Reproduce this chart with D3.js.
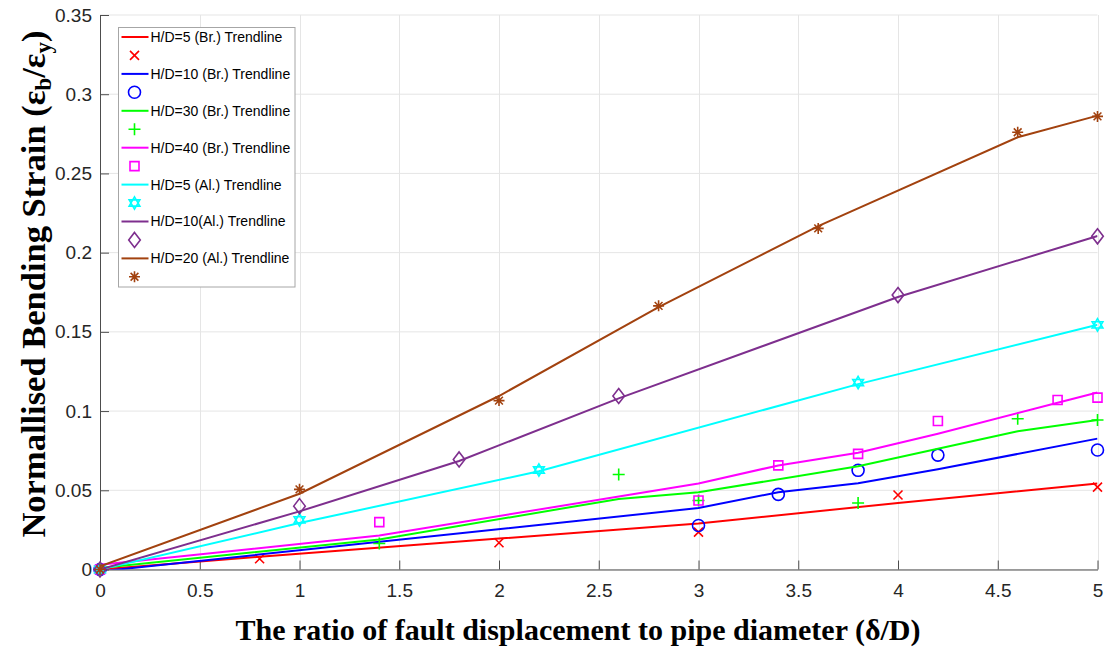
<!DOCTYPE html>
<html>
<head>
<meta charset="utf-8">
<script src="https://cdnjs.cloudflare.com/ajax/libs/d3/7.8.5/d3.min.js"></script>
<style>
  body { margin: 0; background: #fff; }
  svg { display: block; font-family: Arial, 'Liberation Sans', sans-serif; }
  .grid line { stroke: #e5e5e5; stroke-width: 1; }
  .axis path, .axis line { stroke: #4d4d4d; stroke-width: 1; }
  .axis text { fill: #262626; font-size: 19px; }
  .axis-title { font-family: 'Liberation Serif', 'Times New Roman', serif; font-weight: bold; fill: #000; }
  .x-title { font-size: 30px; }
  .y-title { font-size: 34.5px; }
  .trend { fill: none; stroke-width: 2; }
  .marker { fill: none; stroke-width: 1.6; }
  .legend-frame { fill: #fff; stroke: #a6a6a6; stroke-width: 1; }
  .legend text { font-size: 14px; fill: #000; }
</style>
</head>
<body>
<div id="chart"></div>
<script>
'use strict';

var X_TICKS = [0, 0.5, 1, 1.5, 2, 2.5, 3, 3.5, 4, 4.5, 5],
    X_TICK_LABELS = ['0', '0.5', '1', '1.5', '2', '2.5', '3', '3.5', '4', '4.5', '5'],
    Y_TICKS = [0, 0.05, 0.1, 0.15, 0.2, 0.25, 0.3, 0.35],
    Y_TICK_LABELS = ['0', '0.05', '0.1', '0.15', '0.2', '0.25', '0.3', '0.35'];

var SERIES_NAMES = [
  'H/D=5 (Br.) Trendline',
  'H/D=10 (Br.) Trendline',
  'H/D=30 (Br.) Trendline',
  'H/D=40 (Br.) Trendline',
  'H/D=5 (Al.) Trendline',
  'H/D=10(Al.) Trendline',
  'H/D=20 (Al.) Trendline'
];

// measured points [delta/D, strain ratio]
var br5Points = [[0, 0], [0.8, 0.0068], [2, 0.0169], [3, 0.0236], [4, 0.047], [5, 0.052]],
    br10Points = [[0, 0], [3, 0.0278], [3.4, 0.0474], [3.8, 0.0626], [4.2, 0.0722], [5, 0.0754]],
    br30Points = [[0, 0], [1.4, 0.0164], [2.6, 0.060], [3, 0.0436], [3.8, 0.042], [4.6, 0.0952], [5, 0.0944]],
    br40Points = [[0, 0], [1.4, 0.0299], [3, 0.0436], [3.4, 0.0657], [3.8, 0.073], [4.2, 0.0937], [4.8, 0.107], [5, 0.1085]],
    al5Points = [[0, 0], [1, 0.0313], [2.2, 0.0628], [3.8, 0.118], [5, 0.1544]],
    al10Points = [[0, 0], [1, 0.040], [1.8, 0.0695], [2.6, 0.1095], [4, 0.1732], [5, 0.2103]],
    al20Points = [[0, 0], [1, 0.0506], [2, 0.1066], [2.8, 0.1664], [3.6, 0.2153], [4.6, 0.276], [5, 0.286]];

// trendline values
var br5Trend = [[0, 0], [0.8, 0.008], [2, 0.0195], [3, 0.029], [4, 0.042], [5, 0.0543]],
    br10Trend = [[0, -0.0012], [3, 0.0388], [3.4, 0.0488], [3.8, 0.0545], [4.2, 0.0633], [5, 0.0826]],
    br30Trend = [[0, 0.001], [1.4, 0.019], [2.6, 0.0445], [3, 0.0487], [3.8, 0.0652], [4.6, 0.0872], [5, 0.0944]],
    br40Trend = [[0, 0.003], [1.4, 0.0214], [3, 0.0543], [3.4, 0.0657], [3.8, 0.0737], [4.2, 0.0857], [4.8, 0.1053], [5, 0.1117]],
    al5Trend = [[0, 0], [1, 0.0293], [2.2, 0.062], [3.8, 0.117], [5, 0.1545]],
    al10Trend = [[0, 0], [1, 0.0367], [1.8, 0.0685], [2.6, 0.108], [4, 0.172], [5, 0.2105]],
    al20Trend = [[0, 0.002], [1, 0.0478], [2, 0.1095], [2.8, 0.1656], [3.6, 0.2167], [4.6, 0.2728], [5, 0.2865]];

var COLORS = ['#ff0000', '#0000ff', '#00ff00', '#ff00ff', '#00ffff', '#7e2f8e', '#a2420f'],
    MARKERS = ['cross', 'circle', 'plus', 'square', 'hexagram', 'diamond', 'asterisk'];

var WIDTH = 1110,
    HEIGHT = 650,
    MARGIN = {top: 15, right: 12.5, bottom: 80.5, left: 100};


var markerPath = function (type) {
  var r, h;
  if (type === 'cross') {
    r = 4.5;
    return 'M' + -r + ',' + -r + 'L' + r + ',' + r + 'M' + -r + ',' + r + 'L' + r + ',' + -r;
  }
  if (type === 'plus') {
    r = 6;
    return 'M' + -r + ',0L' + r + ',0M0,' + -r + 'L0,' + r;
  }
  if (type === 'circle') {
    r = 6;
    return 'M' + r + ',0A' + r + ',' + r + ' 0 1,1 ' + -r + ',0A' + r + ',' + r + ' 0 1,1 ' + r + ',0Z';
  }
  if (type === 'square') {
    r = 4.5;
    return 'M' + -r + ',' + -r + 'H' + r + 'V' + r + 'H' + -r + 'Z';
  }
  if (type === 'diamond') {
    return 'M0,-7.5L5.8,0L0,7.5L-5.8,0Z';
  }
  if (type === 'hexagram') {
    r = 6.2;
    h = r * 0.866;
    return 'M0,' + -r + 'L' + h + ',' + r / 2 + 'L' + -h + ',' + r / 2 + 'Z' +
        'M0,' + r + 'L' + h + ',' + -r / 2 + 'L' + -h + ',' + -r / 2 + 'Z';
  }
  // asterisk
  r = 5.5;
  h = r * 0.707;
  return 'M' + -r + ',0L' + r + ',0M0,' + -r + 'L0,' + r +
      'M' + -h + ',' + -h + 'L' + h + ',' + h + 'M' + -h + ',' + h + 'L' + h + ',' + -h;
};


var drawChart = function () {
  var svg, plot, x, y, line, series, legend, yTitle, innerW, innerH;

  series = [
    {points: br5Points, trend: br5Trend},
    {points: br10Points, trend: br10Trend},
    {points: br30Points, trend: br30Trend},
    {points: br40Points, trend: br40Trend},
    {points: al5Points, trend: al5Trend},
    {points: al10Points, trend: al10Trend},
    {points: al20Points, trend: al20Trend}
  ].map(function (s, i) {
    s.name = SERIES_NAMES[i];
    s.color = COLORS[i];
    s.marker = MARKERS[i];
    return s;
  });

  innerW = WIDTH - MARGIN.left - MARGIN.right;
  innerH = HEIGHT - MARGIN.top - MARGIN.bottom;

  svg = d3.select('#chart').append('svg')
      .attr('width', WIDTH)
      .attr('height', HEIGHT);

  svg.append('defs')
      .append('clipPath')
      .attr('id', 'clipToPlotArea')
      .append('rect')
      .attr('width', innerW)
      .attr('height', innerH);

  plot = svg.append('g')
      .attr('transform', 'translate(' + MARGIN.left + ',' + MARGIN.top + ')');

  x = d3.scaleLinear().domain([0, 5]).range([0, innerW]);
  y = d3.scaleLinear().domain([0, 0.35]).range([innerH, 0]);

  // grid
  plot.append('g')
      .attr('class', 'grid')
      .selectAll('line.gx')
      .data(X_TICKS)
      .enter().append('line')
      .attr('x1', function (d) { return Math.round(x(d)) + 0.5; })
      .attr('x2', function (d) { return Math.round(x(d)) + 0.5; })
      .attr('y1', 0)
      .attr('y2', innerH);
  plot.select('.grid')
      .selectAll('line.gy')
      .data(Y_TICKS)
      .enter().append('line')
      .attr('x1', 0)
      .attr('x2', innerW)
      .attr('y1', function (d) { return y(d); })
      .attr('y2', function (d) { return y(d); });

  // axes
  plot.append('g')
      .attr('class', 'axis')
      .attr('transform', 'translate(0,' + innerH + ')')
      .call(d3.axisBottom(x)
          .tickValues(X_TICKS)
          .tickFormat(function (d, i) { return X_TICK_LABELS[i]; })
          .tickSizeInner(-9)
          .tickSizeOuter(0)
          .tickPadding(14));

  plot.append('g')
      .attr('class', 'axis')
      .call(d3.axisLeft(y)
          .tickValues(Y_TICKS)
          .tickFormat(function (d, i) { return Y_TICK_LABELS[i]; })
          .tickSizeInner(-9)
          .tickSizeOuter(0)
          .tickPadding(8));

  line = d3.line()
      .x(function (d) { return x(d[0]); })
      .y(function (d) { return y(d[1]); });

  series.forEach(function (s) {
    plot.append('path')
        .attr('class', 'trend')
        .attr('clip-path', 'url(#clipToPlotArea)')
        .attr('stroke', s.color)
        .attr('d', line(s.trend));

    plot.append('g')
        .selectAll('path')
        .data(s.points)
        .enter().append('path')
        .attr('class', 'marker')
        .attr('stroke', s.color)
        .attr('transform', function (d) {
          return 'translate(' + x(d[0]) + ',' + y(d[1]) + ')';
        })
        .attr('d', markerPath(s.marker));
  });

  // legend: trendline row then marker row for each series
  legend = svg.append('g')
      .attr('class', 'legend')
      .attr('transform', 'translate(118.5,27.5)');

  legend.append('rect')
      .attr('class', 'legend-frame')
      .attr('width', 176.5)
      .attr('height', 259.5);

  series.forEach(function (s, i) {
    var rowY = 9.5 + i * 36.9;

    legend.append('line')
        .attr('x1', 3)
        .attr('x2', 30)
        .attr('y1', rowY)
        .attr('y2', rowY)
        .attr('stroke', s.color)
        .attr('stroke-width', 2);

    legend.append('text')
        .attr('x', 32)
        .attr('y', rowY)
        .attr('dy', '0.35em')
        .text(s.name);

    legend.append('path')
        .attr('class', 'marker')
        .attr('stroke', s.color)
        .attr('transform', 'translate(16,' + (rowY + 18.4) + ')')
        .attr('d', markerPath(s.marker));
  });

  // axis titles
  svg.append('text')
      .attr('class', 'axis-title x-title')
      .attr('text-anchor', 'middle')
      .attr('x', 578)
      .attr('y', 640)
      .text('The ratio of fault displacement to pipe diameter (\u03b4/D)');

  yTitle = svg.append('text')
      .attr('class', 'axis-title y-title')
      .attr('text-anchor', 'middle')
      .attr('transform', 'translate(45,284) rotate(-90)');
  yTitle.append('tspan').text('Normallised Bending Strain (\u03b5');
  yTitle.append('tspan').attr('dy', 6).attr('font-size', '23px').text('b');
  yTitle.append('tspan').attr('dy', -6).text('/\u03b5');
  yTitle.append('tspan').attr('dy', 6).attr('font-size', '23px').text('y');
  yTitle.append('tspan').attr('dy', -6).text(')');
};

drawChart();
</script>
</body>
</html>
